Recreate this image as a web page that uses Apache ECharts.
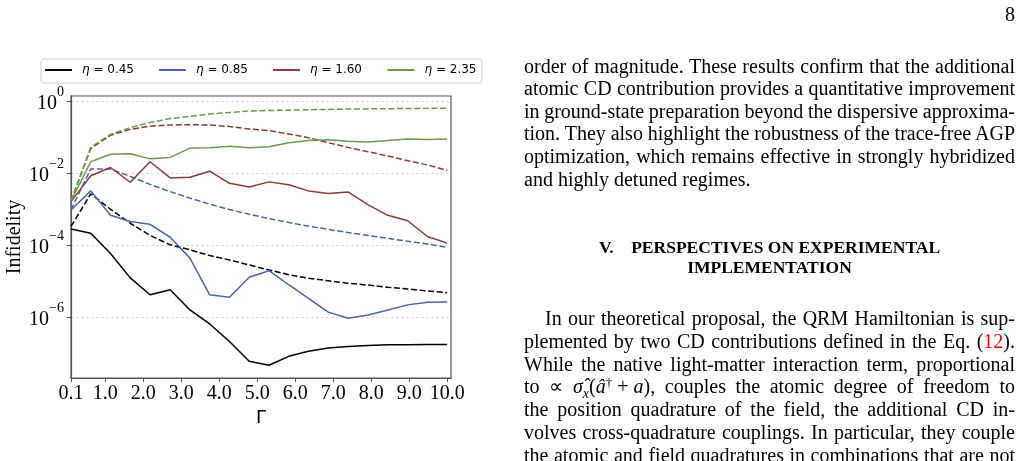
<!DOCTYPE html>
<html>
<head>
<meta charset="utf-8">
<script src="https://cdn.jsdelivr.net/npm/echarts@6/dist/echarts.min.js"></script>
<style>
  body { margin: 0; background: #fff; }
  #main { position: absolute; left: 0; top: 0; width: 1022px; height: 461px; }
  .ln { position: absolute; left: 524px; width: 491px; height: 22.8px; overflow: hidden;
        font-family: 'Liberation Serif', serif; font-size: 20px; line-height: 22.8px; color: #000; }
  .j { text-align: justify; text-align-last: justify; word-spacing: -3px; }
  .h { text-align: center; font-weight: bold; font-size: 17.5px; }
  .ln sub { line-height: 0; font-size: 14px; }
  .ln sup { line-height: 0; font-size: 13px; vertical-align: 6px; }
  .math { display: inline-block; word-spacing: 0; }
  .ref { color: #e00; }
</style>
</head>
<body>
<div id="main"></div>

<div class="ln" style="top:3px;text-align:right;">8</div>

<div class="ln j" style="top:55px">order of magnitude. These results confirm that the additional</div>
<div class="ln j" style="top:77px">atomic CD contribution provides a quantitative improvement</div>
<div class="ln j" style="top:100px">in ground-state preparation beyond the dispersive approxima-</div>
<div class="ln j" style="top:122px">tion. They also highlight the robustness of the trace-free AGP</div>
<div class="ln j" style="top:145px">optimization, which remains effective in strongly hybridized</div>
<div class="ln" style="top:168px">and highly detuned regimes.</div>

<div class="ln h" style="top:236px">V.&ensp;&ensp;PERSPECTIVES ON EXPERIMENTAL</div>
<div class="ln h" style="top:256px">IMPLEMENTATION</div>

<div class="ln j" style="top:307px;left:545px;width:470px">In our theoretical proposal, the QRM Hamiltonian is sup-</div>
<div class="ln j" style="top:330px">plemented by two CD contributions defined in the Eq. (<span class="ref">12</span>).</div>
<div class="ln j" style="top:353px">While the native light-matter interaction term, proportional</div>
<div class="ln j" style="top:375px">to &prop; <span class="math"><i>&sigma;&#770;</i><sub><i>x</i></sub>(<i>&acirc;</i><sup>&dagger;</sup> + <i>a</i>)</span>, couples the atomic degree of freedom to</div>
<div class="ln j" style="top:398px">the position quadrature of the field, the additional CD in-</div>
<div class="ln j" style="top:421px">volves cross-quadrature couplings. In particular, they couple</div>
<div class="ln j" style="top:444px">the atomic and field quadratures in combinations that are not</div>

<script>
// Γ 取值（20 個點）
const gammaValues = [0.1, 0.62, 1.14, 1.66, 2.18, 2.71, 3.23, 3.75, 4.27, 4.79,
                     5.31, 5.83, 6.35, 6.87, 7.39, 7.92, 8.44, 8.96, 9.48, 10.0];

// 實線：trace-free AGP
const eta045 = [2.88e-4, 2.19e-4, 6.03e-5, 1.26e-5, 4.27e-6, 5.89e-6, 1.62e-6, 6.61e-7, 2.14e-7, 6.03e-8,
                4.68e-8, 8.32e-8, 1.15e-7, 1.41e-7, 1.55e-7, 1.66e-7, 1.74e-7, 1.74e-7, 1.78e-7, 1.78e-7];
const eta085 = [9.77e-4, 3.31e-3, 6.92e-4, 4.68e-4, 3.89e-4, 1.70e-4, 4.47e-5, 4.27e-6, 3.63e-6, 1.32e-5,
                2.0e-5, 8.13e-6, 3.39e-6, 1.41e-6, 9.55e-7, 1.17e-6, 1.62e-6, 2.24e-6, 2.63e-6, 2.69e-6];
const eta160 = [1.66e-3, 8.71e-3, 1.48e-2, 5.75e-3, 2.14e-2, 7.59e-3, 7.94e-3, 1.17e-2, 5.37e-3, 4.27e-3,
                5.89e-3, 4.90e-3, 3.31e-3, 2.82e-3, 3.09e-3, 1.35e-3, 6.92e-4, 4.90e-4, 1.78e-4, 1.17e-4];
const eta235 = [1.74e-3, 2.14e-2, 3.47e-2, 3.55e-2, 2.57e-2, 2.82e-2, 5.13e-2, 5.25e-2, 5.75e-2, 5.25e-2,
                5.62e-2, 7.24e-2, 8.32e-2, 8.71e-2, 7.94e-2, 7.59e-2, 8.32e-2, 9.12e-2, 8.91e-2, 9.12e-2];

// 虛線：色散近似
const eta045Disp = [3.39e-4, 2.75e-3, 1.02e-3, 4.17e-4, 1.91e-4, 1.05e-4, 7.59e-5, 5.25e-5, 3.98e-5, 2.88e-5,
                    2.09e-5, 1.55e-5, 1.23e-5, 1.05e-5, 8.91e-6, 7.94e-6, 6.92e-6, 6.17e-6, 5.50e-6, 4.90e-6];
const eta085Disp = [9.77e-4, 1.35e-2, 1.35e-2, 8.32e-3, 5.01e-3, 3.16e-3, 2.09e-3, 1.41e-3, 1.0e-3, 7.41e-4,
                    5.62e-4, 4.37e-4, 3.47e-4, 2.82e-4, 2.29e-4, 1.91e-4, 1.58e-4, 1.32e-4, 1.10e-4, 8.91e-5];
const eta160Disp = [1.74e-3, 5.01e-2, 1.17e-1, 1.70e-1, 2.09e-1, 2.24e-1, 2.29e-1, 2.24e-1, 2.04e-1, 1.74e-1,
                    1.58e-1, 1.26e-1, 1.0e-1, 7.24e-2, 5.37e-2, 4.07e-2, 3.09e-2, 2.29e-2, 1.74e-2, 1.23e-2];
const eta235Disp = [1.74e-3, 5.37e-2, 1.23e-1, 1.91e-1, 2.63e-1, 3.39e-1, 3.89e-1, 4.57e-1, 5.01e-1, 5.50e-1,
                    5.69e-1, 5.82e-1, 5.96e-1, 6.10e-1, 6.24e-1, 6.31e-1, 6.38e-1, 6.46e-1, 6.53e-1, 6.61e-1];

// 刻度
const gammaTicks = [0.1, 1, 2, 3, 4, 5, 6, 7, 8, 9, 10];
const infidelityTicks = [1, 1e-2, 1e-4, 1e-6];
const etaLabels = ['0.45', '0.85', '1.60', '2.35'];

const colors = ['#000000', '#4a64a6', '#8b3a3a', '#6a9a4b'];
const solidSets = [eta045, eta085, eta160, eta235];
const dashSets = [eta045Disp, eta085Disp, eta160Disp, eta235Disp];

const pairs = ys => gammaValues.map((g, i) => [g, ys[i]]);

const series = [];
dashSets.forEach((ys, k) => {
  series.push({
    name: 'disp ' + etaLabels[k],
    type: 'line',
    symbol: 'none',
    data: pairs(ys),
    color: colors[k],
    lineStyle: { color: colors[k], width: 1.5, type: [6, 2.6] },
    z: 2
  });
});
solidSets.forEach((ys, k) => {
  series.push({
    name: 'η = ' + etaLabels[k],
    type: 'line',
    symbol: 'none',
    data: pairs(ys),
    color: colors[k],
    lineStyle: { color: colors[k], width: 1.5 },
    z: 3
  });
});

// 每個圖例項單獨定位
const legendLeft = [44, 158, 272, 386.5];
const legends = etaLabels.map((lab, k) => ({
  data: ['η = ' + lab],
  left: legendLeft[k],
  top: 64,
  itemWidth: 27,
  itemHeight: 14,
  padding: 0,
  itemStyle: { opacity: 0, borderWidth: 0 },
  formatter: () => '{i|η} = ' + lab,
  textStyle: {
    fontFamily: 'DejaVu Sans',
    fontSize: 12,
    color: '#000',
    padding: [0, 0, 0, 5],
    rich: { i: { fontFamily: 'DejaVu Sans', fontStyle: 'italic', fontSize: 12, color: '#000' } }
  }
}));

const frameColor = '#555';
const myChart = echarts.init(document.getElementById('main'));

myChart.setOption({
  animation: false,
  graphic: [{
    type: 'rect',
    shape: { x: 41, y: 59, width: 441, height: 24, r: 3 },
    style: { fill: 'none', stroke: '#d0d0d0', lineWidth: 1 },
    z: 0
  }],
  legend: legends,
  grid: {
    left: 71, top: 96, width: 380, height: 282,
    show: true, borderColor: frameColor, borderWidth: 1.2, backgroundColor: 'transparent'
  },
  xAxis: {
    type: 'value',
    min: 0.1,
    max: 10.1,
    name: 'Γ',
    nameLocation: 'middle',
    nameGap: 24,
    nameTextStyle: { fontFamily: 'DejaVu Sans', fontSize: 18, color: '#000' },
    axisLine: { lineStyle: { color: frameColor, width: 1.2 } },
    axisTick: { customValues: gammaTicks, length: 4, lineStyle: { color: frameColor } },
    axisLabel: {
      customValues: gammaTicks,
      formatter: v => v.toFixed(1),
      fontFamily: 'Liberation Serif', fontSize: 20, color: '#000', margin: 6
    },
    splitLine: { show: false }
  },
  yAxis: {
    type: 'log',
    min: 2.075e-8,
    max: 1.439,
    name: 'Infidelity',
    nameLocation: 'middle',
    nameGap: 46,
    nameTextStyle: { fontFamily: 'Liberation Serif', fontSize: 20, color: '#000' },
    axisLine: { lineStyle: { color: frameColor, width: 1.2 } },
    axisTick: { customValues: infidelityTicks, length: 4, lineStyle: { color: frameColor } },
    axisLabel: {
      customValues: infidelityTicks,
      margin: 7,
      formatter: v => {
        const e = Math.round(Math.log10(v));
        return '{b|10}{s|' + (e < 0 ? '\u2212' : '') + Math.abs(e) + '}';
      },
      rich: {
        b: { fontFamily: 'Liberation Serif', fontSize: 20, color: '#000', padding: [5, 0, 0, 0] },
        s: { fontFamily: 'Liberation Serif', fontSize: 14, color: '#000', padding: [0, 0, 18, 0] }
      }
    },
    splitLine: { show: true, lineStyle: { color: '#d3d3d3', width: 0.8, type: [3, 2] } },
    minorTick: { show: false }
  },
  series: series
});
</script>
</body>
</html>
